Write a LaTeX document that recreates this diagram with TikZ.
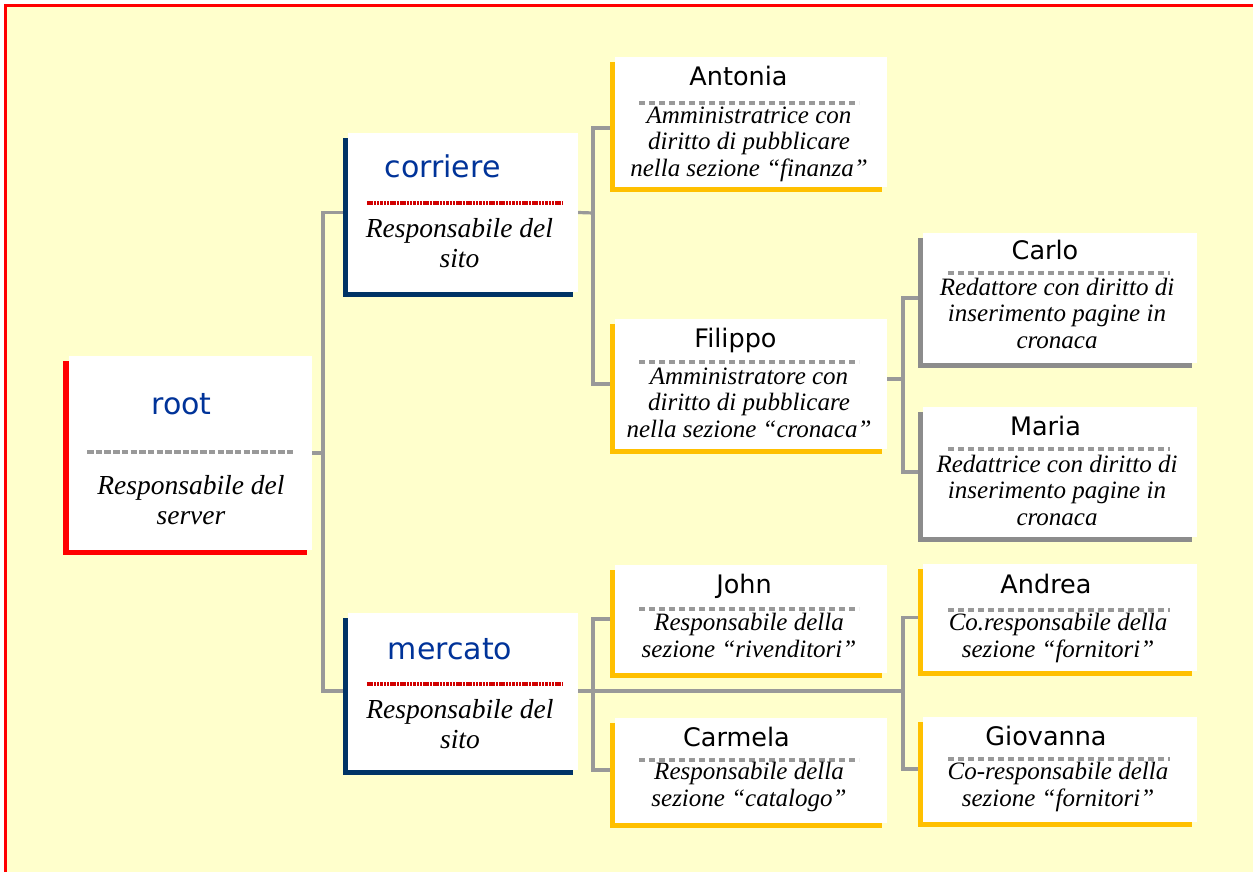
\documentclass[tikz,border=0pt]{standalone}
\usepackage{fontspec}
\setmainfont{Liberation Serif}
\newfontfamily\namefont{DejaVu Sans}
\usetikzlibrary{shadows}
\definecolor{bgyel}{HTML}{FFFFCC}
\definecolor{frred}{HTML}{FF0000}
\definecolor{navy}{HTML}{003366}
\definecolor{gold}{HTML}{FFC000}
\definecolor{shgray}{HTML}{8C8C8C}
\definecolor{lngray}{HTML}{999999}
\definecolor{dkred}{HTML}{D00000}
\definecolor{tblue}{HTML}{003399}
\pgfdeclarelayer{bglayer}
\pgfdeclarelayer{connlayer}
\pgfsetlayers{bglayer,connlayer,main}
\begin{document}
\begin{tikzpicture}[x=1pt,y=-1pt,
  pbox/.style={fill=white, draw=none, inner sep=0pt, general shadow={fill=#1, shadow xshift=-5pt, shadow yshift=-5pt}},
  connline/.style={draw=lngray, line width=3.2pt},
  sepgray/.style={draw=lngray, line width=3.5pt, dash pattern=on 6pt off 4pt},
  sepred/.style={draw=dkred, line width=4.5pt, dash pattern=on 2.5pt off 0.8pt},
  septop/.style={draw=lngray, line width=4.5pt, dash pattern=on 6.5pt off 2.2pt},
  toptext/.style={font=\namefont\fontsize{30}{34}\selectfont, text=tblue, inner sep=0pt, anchor=base},
  nmtext/.style={font=\namefont\fontsize{25.5}{28}\selectfont, text=black, inner sep=0pt, anchor=base},
  desctext/.style={align=center, font=\itshape\fontsize{25}{26.5}\selectfont, inner sep=0pt, anchor=base},
  descbig/.style={align=center, font=\itshape\fontsize{27.5}{30}\selectfont, inner sep=0pt, anchor=base}
]
\useasboundingbox (0,0) rectangle (1253,872);
\begin{pgfonlayer}{bglayer}
\fill[white] (0,0) rectangle (1253,872);
\fill[bgyel] (5,5) rectangle (1253,872);
\draw[frred, line width=3pt] (5.5,872) -- (5.5,5.5) -- (1253,5.5);
\end{pgfonlayer}

% boxes
\node[pbox=frred, minimum width=243pt, minimum height=194pt, general shadow={fill=frred, shadow xshift=-6pt, shadow yshift=-5pt}] (root) at (190.5,453) {};
\node[pbox=navy, minimum width=230pt, minimum height=159pt] (corriere) at (463,212.5) {};
\node[pbox=navy, minimum width=230pt, minimum height=157pt] (mercato) at (463,691) {};
\node[pbox=gold, minimum width=272pt, minimum height=130pt] (antonia) at (751,122) {};
\node[pbox=gold, minimum width=272pt, minimum height=130pt] (filippo) at (751,384) {};
\node[pbox=shgray, minimum width=274pt, minimum height=130pt] (carlo) at (1060,298) {};
\node[pbox=shgray, minimum width=274pt, minimum height=130pt] (maria) at (1060,472) {};
\node[pbox=gold, minimum width=272pt, minimum height=108pt] (john) at (751,619) {};
\node[pbox=gold, minimum width=272pt, minimum height=105pt] (carmela) at (751,770) {};
\node[pbox=gold, minimum width=274pt, minimum height=107pt] (andrea) at (1060,617.5) {};
\node[pbox=gold, minimum width=274pt, minimum height=105pt] (giovanna) at (1060,769) {};

% connectors
\coordinate (j1) at (323,453);
\coordinate (j2) at (593,213);
\coordinate (j3) at (903,379);
\coordinate (j4) at (593,691);
\coordinate (j5) at (903,691);
\begin{pgfonlayer}{connlayer}
\draw[connline] (root.east) -- (j1);
\draw[connline] (corriere.west) -| (j1) |- (mercato.west);
\draw[connline] (corriere.east) -- (j2);
\draw[connline] ([yshift=-6pt]antonia.west) -| (j2) |- (filippo.west);
\draw[connline] ([yshift=5pt]filippo.east) -- (j3);
\draw[connline] (carlo.west) -| (j3) |- (maria.west);
\draw[connline] (mercato.east) -- (j5);
\draw[connline] (john.west) -| (j4) |- (carmela.west);
\draw[connline] (andrea.west) -| (j5) |- (giovanna.west);
\end{pgfonlayer}

% separators
\draw[septop] (87,452) -- (293,452);
\draw[sepred] (367,203) -- (562,203);
\draw[sepred] (367,684) -- (562,684);
\draw[sepgray] (639,103) -- (859,103);
\draw[sepgray] (639,362) -- (859,362);
\draw[sepgray] (948,273) -- (1170,273);
\draw[sepgray] (948,449) -- (1170,449);
\draw[sepgray] (639,609) -- (859,609);
\draw[sepgray] (639,760) -- (859,760);
\draw[sepgray] (948,610) -- (1170,610);
\draw[sepgray] (948,759) -- (1170,759);

% texts (multi-line nodes: base = last line's baseline)
\node[toptext] (root-t) at (181.5,414) {root};
\node[descbig] (root-d) at (191,524) {Responsabile del\\server};
\node[toptext] (corriere-t) at (442.5,177) {corriere};
\node[descbig] (corriere-d) at (459.5,267) {Responsabile del\\sito};
\node[toptext] (mercato-t) at (450,659) {mercato};
\node[descbig] (mercato-d) at (460,748) {Responsabile del\\sito};

\node[nmtext] (antonia-t) at (738.5,86) {Antonia};
\node[desctext] (antonia-d) at (749,176) {Amministratrice con\\diritto di pubblicare\\nella sezione “finanza”};
\node[nmtext] (filippo-t) at (735.5,347) {Filippo};
\node[desctext] (filippo-d) at (749,437) {Amministratore con\\diritto di pubblicare\\nella sezione “cronaca”};
\node[nmtext] (carlo-t) at (1045,259) {Carlo};
\node[desctext] (carlo-d) at (1057,348) {Redattore con diritto di\\inserimento pagine in\\cronaca};
\node[nmtext] (maria-t) at (1045.5,435) {Maria};
\node[desctext] (maria-d) at (1057,525) {Redattrice con diritto di\\inserimento pagine in\\cronaca};
\node[nmtext] (john-t) at (744,593) {John};
\node[desctext] (john-d) at (749,657) {Responsabile della\\sezione “rivenditori”};
\node[nmtext] (carmela-t) at (736.5,746) {Carmela};
\node[desctext] (carmela-d) at (749,806) {Responsabile della\\sezione “catalogo”};
\node[nmtext] (andrea-t) at (1046,593) {Andrea};
\node[desctext] (andrea-d) at (1058,657) {Co.responsabile della\\sezione “fornitori”};
\node[nmtext] (giovanna-t) at (1046,745) {Giovanna};
\node[desctext] (giovanna-d) at (1058,806) {Co-responsabile della\\sezione “fornitori”};
\end{tikzpicture}
\end{document}
